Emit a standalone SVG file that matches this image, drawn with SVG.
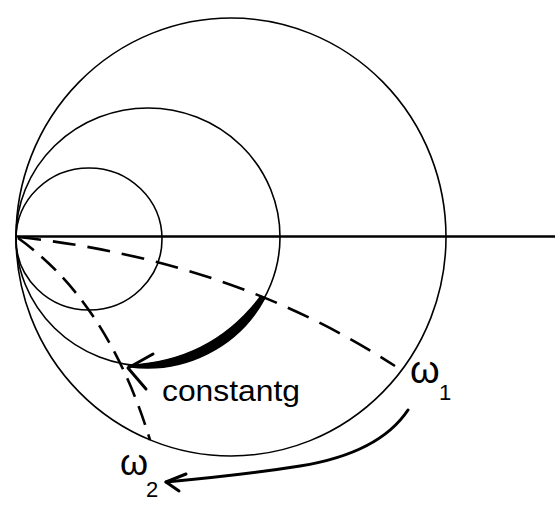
<svg xmlns="http://www.w3.org/2000/svg" width="560" height="510" viewBox="0 0 560 510">
<defs>
<style>
.c{fill:none;stroke:#000;stroke-width:1.6}
.axis{fill:none;stroke:#000;stroke-width:2.6}
.d1{fill:none;stroke:#000;stroke-width:2.6;stroke-dasharray:23 12}
.d2{fill:none;stroke:#000;stroke-width:2.6;stroke-dasharray:20 10}
.a{fill:none;stroke:#000;stroke-width:3;stroke-linecap:round;stroke-linejoin:round}
.t{font-family:"Liberation Sans",Arial,sans-serif;fill:#000}
</style>
</defs>
<rect width="560" height="510" fill="#fff"/>
<g id="circle-large"><ellipse class="c" cx="231" cy="237" rx="215" ry="219"/></g>
<g id="circle-middle"><ellipse class="c" cx="148" cy="237" rx="132" ry="129"/></g>
<g id="circle-small"><ellipse class="c" cx="89" cy="239" rx="73" ry="71"/></g>
<g id="axis"><path class="axis" d="M16,236.5 H555"/></g>
<g id="connectors">
<path id="locus-w1" class="d1" d="M18,237 Q232,260 395,366"/>
<path id="locus-w2" class="d2" d="M18,238 Q108,302 150,440"/>
<path id="constant-g-arc" d="M264,298 A132,129 0 0 1 130,365 Q212,361 261,296 Z" fill="#000" stroke="#000" stroke-width="1.5" stroke-linejoin="round"/>
<path class="a" d="M264,298 A132,129 0 0 1 129,366"/>
<path class="a" d="M153,354 L128,368 L146,389"/>
<path id="w1-to-w2" class="a" d="M408,410 C388,440 350,458 300,466 S210,478 166,482"/>
<path class="a" d="M186,474 L166,482 L179,491"/>
</g>
<g id="label-constant-g"><text class="t" x="162" y="401" font-size="29" textLength="138" lengthAdjust="spacingAndGlyphs">constantg</text></g>
<g id="label-w1"><text class="t" x="410" y="383" font-size="38">ω</text><text class="t" x="439" y="400" font-size="22">1</text></g>
<g id="label-w2"><text class="t" x="120" y="475" font-size="36">ω</text><text class="t" x="146" y="497" font-size="22">2</text></g>
</svg>
